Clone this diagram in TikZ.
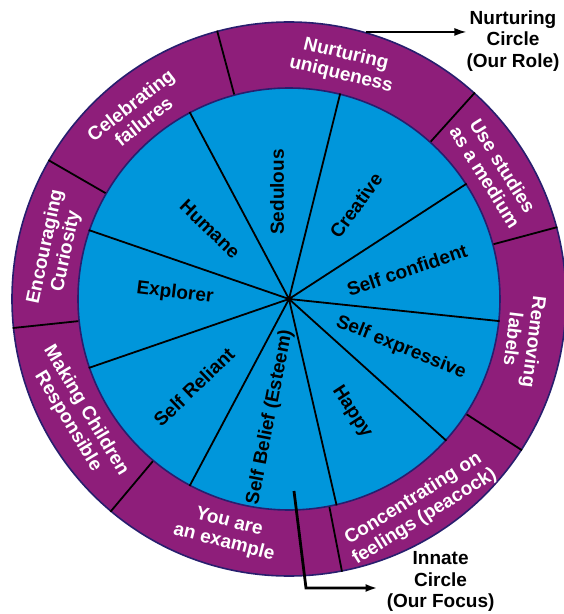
\documentclass[tikz,border=0pt]{standalone}
\usepackage{fontspec}
\setmainfont{Liberation Sans}
\usetikzlibrary{arrows.meta}
\definecolor{ringpurple}{RGB}{142,30,122}
\definecolor{corebl}{RGB}{0,150,219}
\definecolor{rimnavy}{RGB}{40,30,110}
\begin{document}
\begin{tikzpicture}[x=1pt,y=1pt,
  lblfont/.style={font=\bfseries\fontsize{19}{21}\selectfont, align=center, inner sep=0pt},
  inlbl/.style={lblfont, text=black},
  outlbl/.style={lblfont, text=white},
  sidelbl/.style={font=\bfseries\fontsize{19}{21.5}\selectfont, align=center, inner sep=0pt, text=black},
  spokeline/.style={black, line width=1.8pt},
  rim/.style={circle, draw=rimnavy, line width=1.6pt, inner sep=0pt},
  pointer/.style={black, -{Latex[length=12pt,width=8pt]}}
]
\useasboundingbox (-289,-315) rectangle (275,299);
% rings
\node[rim, fill=ringpurple, minimum size=554pt] (outer) at (0,0) {};
\node[rim, fill=corebl, minimum size=422pt] (inner) at (0,0) {};
% outer spokes
\foreach \a in {105,48,15.5,-33,-79,-130,-174,150}
  \draw[spokeline] (inner.\a) -- (outer.\a);
% hub and inner spokes
\node[circle, fill=black, minimum size=6pt, inner sep=0pt] (hub) at (0,0) {};
\foreach \a in {118,76.5,33,-6,-42.5,-77.5,-118.5,-161,161}
  \draw[spokeline] (hub.center) -- (inner.\a);
% inner labels
\node[inlbl, rotate=-44] (humane) at (-79,70) {Humane};
\node[inlbl, rotate=90] (sedulous) at (-12,107) {Sedulous};
\node[inlbl, rotate=54] (creative) at (67,93.5) {Creative};
\node[inlbl, rotate=19] (selfconf) at (118,29) {Self confident};
\node[inlbl, rotate=-22] (selfexpr) at (112,-48.5) {Self expressive};
\node[inlbl, rotate=-57] (happy) at (63,-113) {Happy};
\node[inlbl, rotate=79] (selfbelief) at (-19,-118) {Self Belief (Esteem)};
\node[inlbl, rotate=44] (selfrel) at (-95,-88) {Self Reliant};
\node[inlbl, rotate=-7] (explorer) at (-114,6) {Explorer};
% outer labels
\node[outlbl, rotate=-13.5] (nurtu) at (54.5,234.4) {Nurturing\\uniqueness};
\node[outlbl, rotate=-58] (studies) at (205,127.5) {Use studies\\as a medium};
\node[outlbl, rotate=-97] (removing) at (235,-41.6) {Removing\\labels};
\node[outlbl, rotate=32] (concentr) at (130,-209) {Concentrating on\\feelings (peacock)};
\node[outlbl, rotate=-14.5] (example) at (-62.5,-233.5) {You are\\an example};
\node[outlbl, rotate=-59] (making) at (-212,-117) {Making Children\\Responsible};
\node[outlbl, rotate=78] (curiosity) at (-233,50) {Encouraging\\Curiosity};
\node[outlbl, rotate=38] (celebr) at (-152,186) {Celebrating\\failures};
% side captions
\node[sidelbl] (nurtcap) at (224,258) {Nurturing\\Circle\\(Our Role)};
\node[sidelbl, inner xsep=9pt] (innatecap) at (151.6,-282.5) {Innate\\Circle\\(Our Focus)};
% pointers
\coordinate (nstart) at (outer.74.6);
\draw[pointer, line width=1.5pt] (nstart) -- (nurtcap.west |- nstart);
\coordinate (istart) at (5,-192);
\coordinate (ibend) at (17,-289);
\draw[pointer, line width=2.8pt] (istart) -- (ibend) -- (innatecap.west |- ibend);
\end{tikzpicture}
\end{document}
